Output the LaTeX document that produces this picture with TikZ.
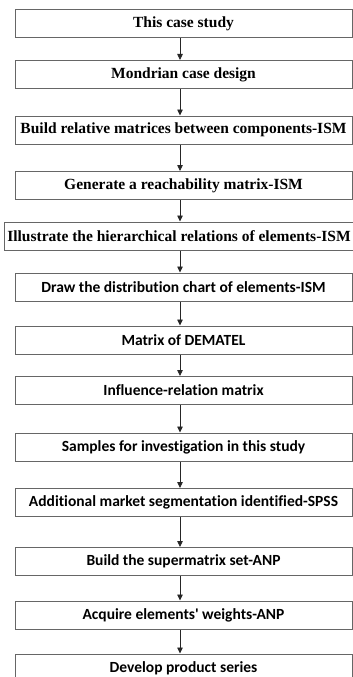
\documentclass[tikz,border=0pt]{standalone}
\usepackage{fontspec}
\newfontfamily\serifbold{Liberation Serif}
\newfontfamily\sansbold[Ligatures=NoCommon]{Carlito}
\usetikzlibrary{arrows.meta}
\tikzset{
  stepbox/.style={draw=black!60, line width=1pt, rectangle, inner sep=0pt,
    minimum width=337pt, minimum height=28pt, fill=white},
  serifstep/.style={stepbox, font=\serifbold\bfseries\fontsize{15.5}{18}\selectfont},
  sansstep/.style={stepbox, font=\sansbold\bfseries\fontsize{15.5}{18}\selectfont},
  flow/.style={draw=black!85, line width=0.8pt, -{Triangle[length=6pt,width=5.5pt]}}
}
\begin{document}
\begin{tikzpicture}[x=1pt,y=-1pt]
  \useasboundingbox (0,0) rectangle (353,677);
  \fill[white] (0,0) rectangle (353,677);
  \clip (0,0) rectangle (353,677);
  \coordinate (ax) at (180,0);
  \node[serifstep] (b1) at (183.5,24) {This case study};
  \node[serifstep] (b2) at (183.5,74.5) {Mondrian case design};
  \node[serifstep] (b3) at (183.5,130) {Build relative matrices between components-ISM};
  \node[serifstep] (b4) at (183.5,185.5) {Generate a reachability matrix-ISM};
  \node[serifstep, minimum width=350pt] (b5) at (179,236) {Illustrate the hierarchical relations of elements-ISM};
  \node[sansstep] (b6) at (183.5,287) {Draw the distribution chart of elements-ISM};
  \node[sansstep] (b7) at (183.5,340) {Matrix of DEMATEL};
  \node[sansstep] (b8) at (183.5,390.5) {Influence-relation matrix};
  \node[sansstep] (b9) at (183.5,447) {Samples for investigation in this study};
  \node[sansstep] (b10) at (183.5,502.5) {Additional market segmentation identified-SPSS};
  \node[sansstep] (b11) at (183.5,561.5) {Build the supermatrix set-ANP};
  \node[sansstep] (b12) at (183.5,615) {Acquire elements' weights-ANP};
  \node[sansstep] (b13) at (183.5,668) {Develop product series};
  \foreach \a/\b in {b1/b2,b2/b3,b3/b4,b4/b5,b5/b6,b6/b7,b7/b8,b8/b9,b9/b10,b10/b11,b11/b12,b12/b13}
    \draw[flow] (\a.south -| ax) -- (\b.north -| ax);
\end{tikzpicture}
\end{document}
